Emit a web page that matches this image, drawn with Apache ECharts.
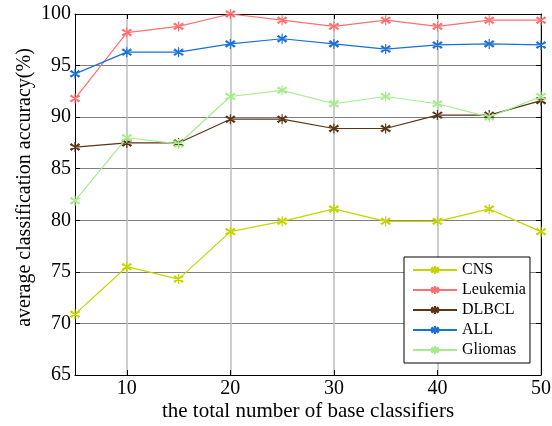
<!DOCTYPE html>
<html lang="en">
<head>
    <meta charset="UTF-8">
    <title>base classifiers</title>
    <script src="https://cdn.jsdelivr.net/npm/echarts@6/dist/echarts.min.js"></script>
    <style>
        body { margin: 0; padding: 0; background: #fff; }
    </style>
</head>
<body>
    <div id="chart" style="width: 552px; height: 426px;"></div>
    <script>
        var xValues = [5, 10, 15, 20, 25, 30, 35, 40, 45, 50];
        var xTicks = [10, 20, 30, 40, 50];
        var cns = [70.9, 75.5, 74.3, 78.9, 79.9, 81.1, 79.9, 79.9, 81.1, 78.9];
        var leukemia = [91.8, 98.2, 98.8, 100, 99.4, 98.8, 99.4, 98.8, 99.4, 99.4];
        var dlbcl = [87.1, 87.5, 87.5, 89.8, 89.8, 88.9, 88.9, 90.2, 90.2, 91.6];
        var all = [94.2, 96.3, 96.3, 97.1, 97.6, 97.1, 96.6, 97.0, 97.1, 97.0];
        var gliomas = [81.9, 88.0, 87.4, 92.0, 92.6, 91.3, 92.0, 91.3, 90.0, 92.0];

        var font = "'Liberation Serif', 'Times New Roman', serif";
        var star = 'path://M0,-5L0,5M-4.3,-2.5L4.3,2.5M-4.3,2.5L4.3,-2.5M-3.5,-3.5L3.5,3.5M-3.5,3.5L3.5,-3.5';

        function pairs(arr) {
            return arr.map(function (v, i) { return [xValues[i], v]; });
        }
        function makeSeries(name, arr, color) {
            return {
                name: name,
                type: 'line',
                data: pairs(arr),
                symbol: star,
                symbolSize: 10,
                showAllSymbol: true,
                lineStyle: { color: color, width: 1.2 },
                itemStyle: { color: 'rgba(0,0,0,0)', borderColor: color, borderWidth: 1.2 },
                emphasis: { disabled: true },
                animation: false
            };
        }

        var chart = echarts.init(document.getElementById('chart'));
        var option = {
            animation: false,
            grid: { left: 75, right: 11, top: 14, bottom: 51, outerBoundsMode: 'none' },
            legend: {
                orient: 'vertical',
                left: 404,
                top: 257,
                padding: [5, 4, 5, 8],
                itemWidth: 44,
                itemHeight: 10,
                itemGap: 4,
                borderColor: '#000',
                borderWidth: 1,
                backgroundColor: '#fff',
                textStyle: { fontFamily: font, fontSize: 16, lineHeight: 16, color: '#000' },
                data: ['CNS', 'Leukemia', 'DLBCL', 'ALL', 'Gliomas']
            },
            xAxis: [{
                type: 'value',
                min: 5,
                max: 50,
                name: 'the total number of base classifiers',
                nameLocation: 'middle',
                nameGap: 26,
                nameMoveOverlap: false,
                nameTextStyle: { fontFamily: font, fontSize: 21, color: '#000' },
                axisLine: { lineStyle: { color: '#000', width: 1 } },
                axisTick: { inside: true, length: 5, customValues: xTicks, lineStyle: { color: '#000' } },
                axisLabel: { customValues: xTicks, fontFamily: font, fontSize: 20, color: '#000', margin: 4 },
                splitLine: { show: true, customValues: [10, 20, 30, 40], lineStyle: { color: '#bdbdbd', width: 1.5 } }
            }, {
                type: 'value',
                position: 'top',
                min: 5,
                max: 50,
                axisLine: { show: true, lineStyle: { color: '#000', width: 1 } },
                axisTick: { inside: true, length: 5, customValues: xTicks, lineStyle: { color: '#000' } },
                axisLabel: { show: false },
                splitLine: { show: false }
            }],
            yAxis: [{
                type: 'value',
                min: 65,
                max: 100,
                interval: 5,
                name: 'average classification accuracy(%)',
                nameLocation: 'middle',
                nameGap: 40,
                nameMoveOverlap: false,
                nameTextStyle: { fontFamily: font, fontSize: 20, color: '#000', padding: [0, 0, 0, 14] },
                axisLine: { show: true, lineStyle: { color: '#000', width: 1 } },
                axisTick: { show: true, inside: true, length: 5, lineStyle: { color: '#000' } },
                axisLabel: { fontFamily: font, fontSize: 20, color: '#000', margin: 4 },
                splitLine: { show: true, lineStyle: { color: '#808080', width: 1 } }
            }, {
                type: 'value',
                position: 'right',
                min: 65,
                max: 100,
                interval: 5,
                axisLine: { show: true, lineStyle: { color: '#000', width: 1 } },
                axisTick: { show: true, inside: true, length: 5, lineStyle: { color: '#000' } },
                axisLabel: { show: false },
                splitLine: { show: false }
            }],
            series: [
                makeSeries('CNS', cns, '#c4d400'),
                makeSeries('Leukemia', leukemia, '#ff7070'),
                makeSeries('DLBCL', dlbcl, '#5a3516'),
                makeSeries('ALL', all, '#1a6fd8'),
                makeSeries('Gliomas', gliomas, '#a6ec8e')
            ]
        };
        chart.setOption(option);
    </script>
</body>
</html>
